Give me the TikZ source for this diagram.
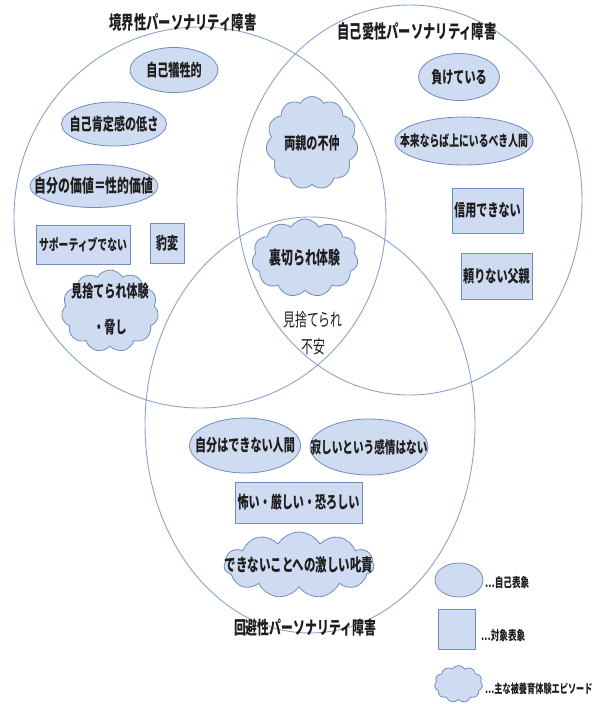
\documentclass[tikz,border=0pt]{standalone}
\usepackage{fontspec}
\setmainfont{Noto Sans CJK JP}[FakeStretch=0.66]
\usetikzlibrary{shapes.geometric,shapes.symbols}
\definecolor{circblue}{HTML}{8AA2CC}
\definecolor{edgeblue}{HTML}{6F8DC0}
\definecolor{fillblue}{HTML}{CFDBF0}
\definecolor{textc}{HTML}{1E1E1E}
\newcommand\zw[1]{\makebox[0pt][c]{#1}}
\newcommand\fsz[1]{\fontsize{#1}{#1}\selectfont\bfseries}
\tikzset{
  venn/.style={ellipse, draw=circblue, line width=0.9pt, inner sep=0pt},
  ell/.style={ellipse, draw=edgeblue, fill=fillblue, line width=0.8pt, inner sep=0pt, text=textc, font=\fsz{16.8}},
  box/.style={rectangle, draw=edgeblue, fill=fillblue, line width=0.8pt, inner sep=0pt, text=textc, font=\fsz{16.8}},
  cld/.style={cloud, cloud puffs=11, cloud puff arc=120, cloud ignores aspect, draw=edgeblue, fill=fillblue, line width=0.8pt, inner sep=0pt, text=textc, font=\fsz{16.8}},
  ttl/.style={inner sep=0pt, text=textc, font=\fsz{18.6}},
  plain/.style={inner sep=0pt, text=textc},
  lgd/.style={inner sep=0pt, anchor=west, text=textc, font=\fsz{13}},
}
\begin{document}
\begin{tikzpicture}[x=1pt,y=-1pt]
\useasboundingbox (0,0) rectangle (600,704);
% Venn sets
\node[venn, minimum width=372pt, minimum height=381pt] (bpd) at (200,217.5) {};
\node[venn, minimum width=345pt, minimum height=390pt] (npd) at (409.5,200) {};
\node[venn, minimum width=330pt, minimum height=416pt] (avpd) at (310,425) {};
% titles
\node[ttl] (tA) at (183,22) {境界性パーソナリティ障害};
\node[ttl] (tB) at (417,31) {自己愛性パーソナリティ障害};
\node[ttl, font=\fsz{18}] (tC) at (305,628) {回避性パーソナリティ障害};
% borderline
\node[ell, minimum width=88pt, minimum height=45pt] (a1) at (174,70) {\zw{自己犠牲的}};
\node[ell, minimum width=105pt, minimum height=44pt] (a2) at (114,124) {\zw{自己肯定感の低さ}};
\node[ell, minimum width=128pt, minimum height=43pt] (a3) at (94,186) {\zw{\fsz{18}自分の価値＝性的価値}};
\node[box, minimum width=94pt, minimum height=39pt] (a4) at (83,244.5) {\zw{\fsz{14.9}サポーティブでない}};
\node[box, minimum width=34pt, minimum height=40pt] (a5) at (167,243) {\zw{豹変}};
\node[cld, minimum width=97pt, minimum height=82pt] (a6) at (110,311) {\zw{\raisebox{-5pt}{\begin{tabular}{@{}c@{}}見捨てられ体験\\[16pt]・脅し\end{tabular}}}};
% shared
\node[cld, minimum width=92pt, minimum height=93pt] (s1) at (312,143) {\zw{両親の不仲}};
\node[cld, minimum width=106pt, minimum height=78pt] (s2) at (305,258) {\zw{\fsz{18}裏切られ体験}};
\node[plain, align=center, font=\fontsize{18}{27}\selectfont] (s3) at (313,333) {見捨てられ\\不安};
% narcissistic
\node[ell, minimum width=81pt, minimum height=47pt] (b1) at (459,77) {\zw{負けている}};
\node[ell, minimum width=138pt, minimum height=48pt] (b2) at (464,141) {\zw{\fsz{14.9}本来ならば上にいるべき人間}};
\node[box, minimum width=71pt, minimum height=45pt] (b3) at (487.5,210.5) {\zw{信用できない}};
\node[box, minimum width=71pt, minimum height=46pt] (b4) at (496.5,276) {\zw{頼りない父親}};
% avoidant
\node[ell, minimum width=111pt, minimum height=55pt] (c1) at (245,445.5) {\zw{自分はできない人間}};
\node[ell, minimum width=118pt, minimum height=56pt] (c2) at (369,447) {\zw{\fsz{16.1}寂しいという感情はない}};
\node[box, minimum width=127pt, minimum height=41pt] (c3) at (298.5,502.5) {\zw{怖い・厳しい・恐ろしい}};
\node[cld, minimum width=150pt, minimum height=66pt] (c4) at (299,565) {\zw{\fsz{17.4}できないことへの激しい叱責}};
% legend
\node[ell, minimum width=48pt, minimum height=34pt] (l1) at (459,580) {};
\node[lgd] (l1t) at (485,583) {…自己表象};
\node[box, minimum width=37pt, minimum height=40pt] (l2) at (456.5,629) {};
\node[lgd] (l2t) at (481,636) {…対象表象};
\node[cld, minimum width=48pt, minimum height=37pt] (l3) at (458.5,684) {};
\node[lgd, font=\fsz{12.4}] (l3t) at (485,689) {…主な被養育体験エピソード};
\end{tikzpicture}
\end{document}
